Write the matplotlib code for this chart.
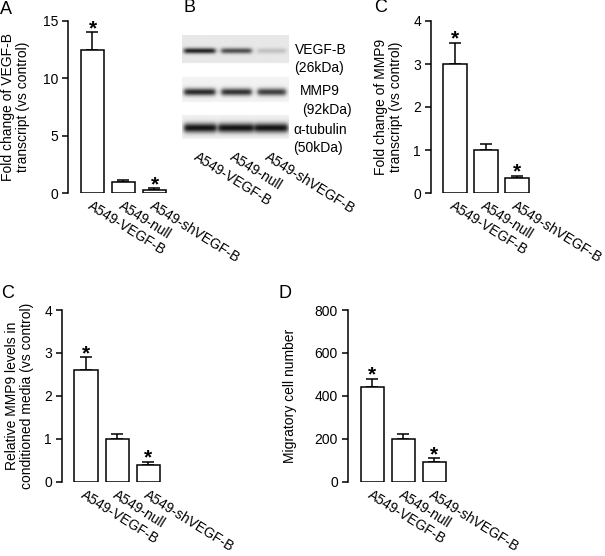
import numpy as np
import matplotlib
matplotlib.use("Agg")
import matplotlib.pyplot as plt

plt.rcParams["font.family"] = ["Liberation Sans", "DejaVu Sans"]

W, H = 605, 556

GROUPS = ["A549-VEGF-B", "A549-null", "A549-shVEGF-B"]

# panel A: VEGF-B transcript
VEGFB_MEAN = [12.5, 1.0, 0.3]
VEGFB_ERR = [1.5, 0.15, 0.1]
VEGFB_STAR = [True, False, True]

# panel C (top): MMP9 transcript
MMP9_MEAN = [3.0, 1.0, 0.35]
MMP9_ERR = [0.5, 0.15, 0.05]
MMP9_STAR = [True, False, True]

# panel C (bottom): MMP9 in conditioned media
MEDIA_MEAN = [2.6, 1.0, 0.4]
MEDIA_ERR = [0.3, 0.1, 0.07]
MEDIA_STAR = [True, False, True]

# panel D: migration
MIGR_MEAN = [440, 200, 90]
MIGR_ERR = [40, 20, 20]
MIGR_STAR = [True, False, True]

# panel B: relative band darkness per lane
BLOT_BANDS = ["VEGF-B", "MMP9", "α-tubulin"]
BLOT_KDA = ["(26kDa)", "(92kDa)", "(50kDa)"]
BLOT_INTENSITY = [
    [0.92, 0.72, 0.18],
    [0.90, 0.86, 0.80],
    [1.00, 1.00, 1.00],
]

fig = plt.figure(figsize=(W / 100, H / 100), dpi=100)


def px_axes(left, top, right, bottom):
    return fig.add_axes([left / W, 1 - bottom / H,
                         (right - left) / W, (bottom - top) / H])


def bar_panel(box, xleft, mean, err, star, ymax, ystep, ylabel, labelpad):
    ax = px_axes(*box)
    x = np.arange(len(mean))
    ax.bar(x, mean, width=0.76, color="white", edgecolor="black",
           linewidth=1.1, zorder=2)
    ax.errorbar(x, mean, yerr=[np.zeros(len(err)), err], fmt="none",
                ecolor="black", elinewidth=1.1, capsize=4, capthick=1.1,
                zorder=1)
    for xi, m, e, s in zip(x, mean, err, star):
        if s:
            ax.annotate("*", (xi, m + e), xytext=(0, -1.5),
                        textcoords="offset points", ha="center",
                        va="baseline", fontsize=15, fontweight="bold")
    ax.set_xlim(xleft, 2.5)
    ax.set_ylim(0, ymax)
    ax.set_yticks(np.arange(0, ymax + ystep / 2, ystep))
    ax.set_xticks(x)
    ax.set_xticklabels(GROUPS, rotation=-32, ha="left", va="top",
                       rotation_mode="anchor", fontsize=10)
    ax.tick_params(axis="x", length=0, pad=4)
    ax.tick_params(axis="y", direction="out", length=4, width=1.1,
                   labelsize=10, pad=3)
    for sp in ("top", "right", "bottom"):
        ax.spines[sp].set_visible(False)
    ax.spines["left"].set_linewidth(1.1)
    ax.set_ylabel(ylabel, fontsize=10, labelpad=labelpad, linespacing=1.15)
    ax.patch.set_alpha(0)
    return ax


bar_panel((68, 21, 170, 193), -0.79, VEGFB_MEAN, VEGFB_ERR, VEGFB_STAR,
          15, 5, "Fold change of VEGF-B\ntranscript (vs control)", 9)
bar_panel((430.7, 21, 532.7, 193), -0.77, MMP9_MEAN, MMP9_ERR, MMP9_STAR,
          4, 1, "Fold change of MMP9\ntranscript (vs control)", 7)
bar_panel((61.7, 310, 164, 481.7), -0.79, MEDIA_MEAN, MEDIA_ERR, MEDIA_STAR,
          4, 1, "Relative MMP9 levels in\nconditioned media (vs control)", 7)
bar_panel((347.7, 310, 449.7, 481.7), -0.8, MIGR_MEAN, MIGR_ERR, MIGR_STAR,
          800, 200, "Migratory cell number", 13)

# ---- panel B: western blot (synthesised band image) ----
bx0, by0, bx1, by1 = 182, 35, 288, 139
axb = px_axes(bx0, by0, bx1, by1)
nx, ny = bx1 - bx0, by1 - by0
img = np.ones((ny * 4, nx * 4))
xx = np.linspace(0, nx, nx * 4)
yy = np.linspace(0, ny, ny * 4)[:, None]

strips = [(0, 28, 0.91, 15.7, 2.0), (42, 67, 0.95, 57, 2.6), (80, 104, 0.94, 93, 3.4)]
lanes = [(2, 33), (39, 69), (75, 103)]
lanes_tub = [(2, 34), (36, 71), (72, 105)]
for (ys, ye, bg, yc, sig), inten, name in zip(strips, BLOT_INTENSITY, BLOT_BANDS):
    inside = (yy >= ys) & (yy < ye)
    strip = np.full(img.shape, bg)
    lane_set = lanes_tub if name == "α-tubulin" else lanes
    for (l0, l1), a in zip(lane_set, inten):
        edge = 1 / (1 + np.exp(-(xx - l0) / 1.2)) * 1 / (1 + np.exp((xx - l1) / 1.2))
        strip = strip - a * bg * 0.92 * edge * np.exp(-((yy - yc) ** 2) / (2 * sig ** 2))
    img = np.where(inside, strip, img)

axb.imshow(img, cmap="gray", vmin=0, vmax=1, extent=(0, nx, ny, 0),
           aspect="auto", interpolation="bilinear")
axb.set_xlim(0, nx)
axb.set_ylim(ny, 0)
axb.set_yticks([])
axb.set_xticks([(l0 + l1) / 2 - 1 for l0, l1 in lanes])
axb.set_xticklabels(GROUPS, rotation=-32, ha="left", va="top",
                    rotation_mode="anchor", fontsize=10)
axb.tick_params(axis="x", length=0, pad=8)
for sp in axb.spines.values():
    sp.set_visible(False)

label_pos = [(295, 50, 294, 68), (300, 91, 302, 110), (293, 130, 293, 148)]
for (x1, y1, x2, y2), name, kda in zip(label_pos, BLOT_BANDS, BLOT_KDA):
    fig.text(x1 / W, 1 - y1 / H, name, fontsize=10, va="center")
    fig.text(x2 / W, 1 - y2 / H, kda, fontsize=10, va="center")

# panel letters
for letter, x, y in [("A", 0, 9), ("B", 183, 8), ("C", 374, 8),
                     ("C", 1, 293), ("D", 279, 293)]:
    fig.text(x / W, 1 - y / H, letter, fontsize=13, va="center", ha="left")

fig.savefig("out.png", dpi=100)
